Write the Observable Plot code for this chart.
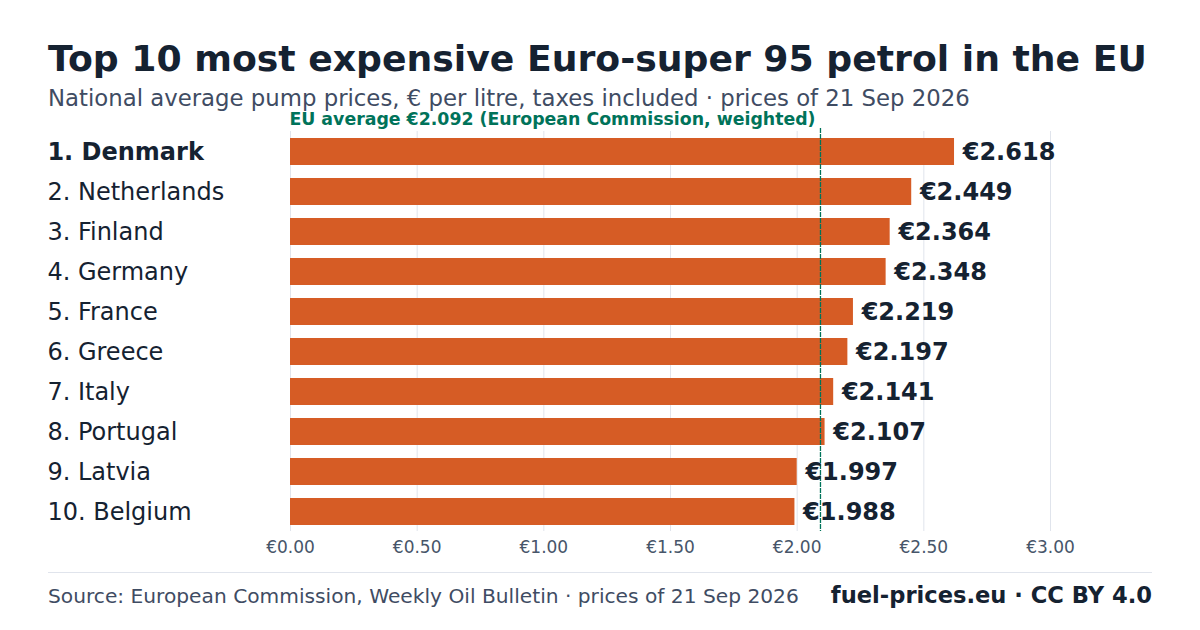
<!DOCTYPE html>
<html><head><meta charset="utf-8">
<script src="https://cdn.jsdelivr.net/npm/d3@7"></script>
<script src="https://cdn.jsdelivr.net/npm/@observablehq/plot@0.6"></script>
<style>
html,body{margin:0;padding:0;background:#fff;width:1200px;height:630px;overflow:hidden;font-family:"DejaVu Sans",sans-serif}
.t{position:absolute;white-space:nowrap;line-height:1}
#chart{position:absolute;left:0;top:100px}
#chart svg{display:block;background:transparent}
</style></head><body>
<div class="t" style="left:48px;top:41px;font-size:36.2px;font-weight:700;color:#152231">Top 10 most expensive Euro-super 95 petrol in the EU</div>
<div class="t" style="left:48px;top:87px;font-size:22.8px;color:#3f4c63">National average pump prices, € per litre, taxes included · prices of 21 Sep 2026</div>
<div id="chart"></div>
<div style="position:absolute;left:48px;top:572px;width:1104px;height:1px;background:#e0e4ec"></div>
<div class="t" style="left:48px;top:586px;font-size:20.2px;color:#3f4c63">Source: European Commission, Weekly Oil Bulletin · prices of 21 Sep 2026</div>
<div class="t" style="right:48px;top:584px;font-size:22.6px;font-weight:700;color:#152231">fuel-prices.eu · CC BY 4.0</div>
<script>
const countries = ["Denmark","Netherlands","Finland","Germany","France","Greece","Italy","Portugal","Latvia","Belgium"];
const prices = [2.618,2.449,2.364,2.348,2.219,2.197,2.141,2.107,1.997,1.988];
const xTicks = [0,0.5,1,1.5,2,2.5,3];
const euAverage = 2.092;
const euLabel = "EU average €2.092 (European Commission, weighted)";
const rows = countries.map((c,i)=>({label:`${i+1}. ${c}`,price:prices[i],rank:i+1}));
const ink = "#152231", muted = "#475569", accent = "#00735a";
const order = rows.map(d=>d.label);
const plot = Plot.plot({
  width:1200,height:470,
  marginLeft:290,marginRight:48.67,marginTop:31,marginBottom:39,
  style:{fontFamily:"DejaVu Sans",background:"transparent",overflow:"visible"},
  x:{domain:[0,3.4],axis:null},
  y:{domain:order,paddingInner:0.325,paddingOuter:0.1625,align:0.5,axis:null},
  marks:[
    Plot.gridX(xTicks,{stroke:"#e0e4ec",strokeOpacity:1,strokeWidth:1}),
    Plot.barX(rows,{x:"price",y:"label",fill:"#d65c25",insetRight:-0.8}),
    Plot.ruleX([euAverage],{stroke:accent,strokeWidth:1.3,strokeDasharray:"5 1",insetTop:-3}),
    Plot.text(rows,{x:"price",y:"label",text:d=>"€"+d.price.toFixed(3),textAnchor:"start",dx:9,fontSize:24,fontWeight:700,fill:ink}),
    Plot.text(rows.filter(d=>d.rank===1),{y:"label",text:"label",frameAnchor:"left",textAnchor:"start",dx:-243.1,fontSize:24,fontWeight:700,fill:ink}),
    Plot.text(rows.filter(d=>d.rank>1),{y:"label",text:"label",frameAnchor:"left",textAnchor:"start",dx:-243.1,fontSize:24,fill:ink}),
    Plot.text([euLabel],{frameAnchor:"top-left",textAnchor:"start",dy:-12,dx:-1.1,fontSize:17.35,fontWeight:700,fill:accent,lineAnchor:"middle"}),
    Plot.axisX(xTicks,{tickSize:0,tickPadding:9,tickFormat:d=>"€"+d.toFixed(2),fontSize:17,color:muted,label:null,marginBottom:39})
  ]
});
document.getElementById("chart").appendChild(plot);
</script>
</body></html>
